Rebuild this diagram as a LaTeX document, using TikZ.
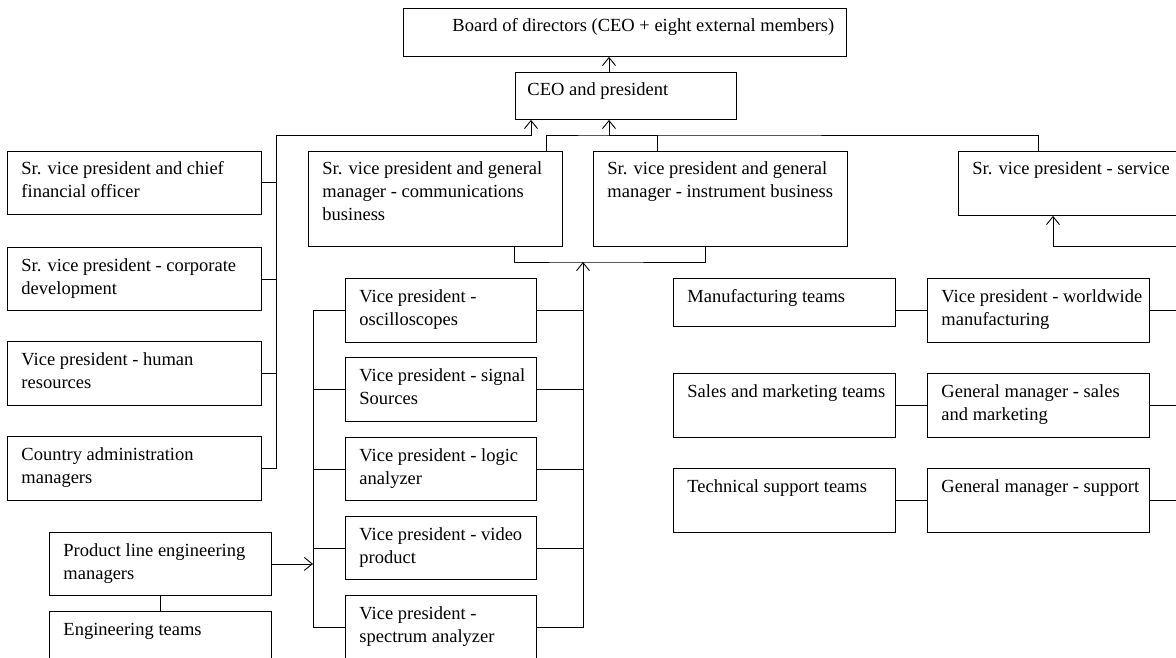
\documentclass[tikz,border=0pt]{standalone}
\usepackage{fontspec}
\setmainfont{Liberation Serif}
\usetikzlibrary{arrows.meta}
\tikzset{
	box/.style = {draw, rectangle, anchor=north west, inner sep=0pt},
	lbl/.style = {anchor=base west, inner sep=0pt, font=\fontsize{18.5pt}{23pt}\selectfont},
	arr/.style = {-{Straight Barb[length=8pt, width=13pt]}}
	}
% box with its text in the top left corner
\newcommand\orgbox[7][14]{%
	\node [box, minimum width=#5pt, minimum height=#6pt] (#2) at (#3,#4) {};
	\node [lbl] (#2-text) at ([shift={(#1pt,-24pt)}]#2.north west) {\parbox[t]{#5pt}{\raggedright #7}};}

\begin{document}
\begin{tikzpicture}[x=1pt, y=-1pt, line width=0.9pt]
\useasboundingbox (0,0) rectangle (1176,658);
\clip (0,0) rectangle (1176,658);

% NODES
\orgbox[49]{board}{403}{8}{443}{48}{Board of directors (CEO + eight external members)}
\orgbox[12]{ceo}{515}{72}{221}{47}{CEO and president}

\orgbox{cfo}{7}{151}{254}{63}{Sr. vice president and chief\\financial officer}
\orgbox{corpdev}{7}{247}{254}{63}{Sr. vice president - corporate\\development}
\orgbox{hr}{7}{341}{254}{64}{Vice president - human\\resources}
\orgbox{country}{7}{436}{254}{64}{Country administration\\managers}

\orgbox{comm}{308}{151}{254}{95}{Sr. vice president and general\\manager - communications\\business}
\orgbox{instr}{593}{151}{254}{95}{Sr. vice president and general\\manager - instrument business}
\orgbox{service}{958}{151}{254}{64}{Sr. vice president - service}

\orgbox{osc}{345}{278}{191}{64}{Vice president -\\oscilloscopes}
\orgbox{sig}{345}{357}{191}{64}{Vice president - signal\\Sources}
\orgbox{logic}{345}{437}{191}{63}{Vice president - logic\\analyzer}
\orgbox{video}{345}{516}{191}{63}{Vice president - video\\product}
\orgbox{spectrum}{345}{595}{191}{64}{Vice president -\\spectrum analyzer}

\orgbox{plm}{49}{532}{222}{63}{Product line engineering\\managers}
\orgbox{eng}{49}{611}{222}{64}{Engineering teams}

\orgbox{mfgteams}{673}{278}{222}{48}{Manufacturing teams}
\orgbox{vpmfg}{927}{278}{222}{64}{Vice president - worldwide\\manufacturing}
\orgbox{salesteams}{673}{373}{222}{64}{Sales and marketing teams}
\orgbox{gmsales}{927}{373}{222}{64}{General manager - sales\\and marketing}
\orgbox{techteams}{673}{468}{222}{64}{Technical support teams}
\orgbox{gmsupport}{927}{468}{222}{64}{General manager - support}

% CONNECTIONS
\coordinate (lbus) at (276,135);
\coordinate (rbus) at (609,135);
\coordinate (vbus) at (583,262);
\coordinate (vpbus) at (313,309);
\coordinate (sbus) at (1190,246);

\draw [arr] (rbus |- ceo.north) -- (rbus |- board.south);

\draw [arr] (country.east) -| (lbus) -| ([xshift=16pt]ceo.south west);
\draw (cfo.east) -- (cfo.east -| lbus);
\draw (corpdev.east) -- (corpdev.east -| lbus);
\draw (hr.east) -- (hr.east -| lbus);

\draw [arr] (rbus) -- (rbus |- ceo.south);
\draw ([xshift=-16pt]comm.north east) |- (rbus) -| ([xshift=80pt]service.north west);
\draw ([xshift=64pt]instr.north west) |- (rbus);

\draw ([xshift=-48pt]comm.south east) |- (vbus) -| ([xshift=112pt]instr.south west);
\draw [arr] (spectrum.east) -| (vbus);
\draw (osc.east) -- (osc.east -| vbus);
\draw (sig.east) -- (sig.east -| vbus);
\draw (logic.east) -- (logic.east -| vbus);
\draw (video.east) -- (video.east -| vbus);

\draw (osc.west) -- (osc.west -| vpbus) |- (spectrum.west);
\draw (sig.west) -- (sig.west -| vpbus);
\draw (logic.west) -- (logic.west -| vpbus);
\draw (video.west) -- (video.west -| vpbus);
\draw [arr] (plm.east) -- (plm.east -| vpbus);
\draw (plm.south) -- (eng.north);

\draw (vpmfg.west) -- (vpmfg.west -| mfgteams.east);
\draw (gmsales.west) -- (salesteams.east);
\draw (gmsupport.west) -- (techteams.east);
\draw [arr] (gmsupport.east) -| (sbus) -| ([xshift=95pt]service.south west);
\draw (vpmfg.east) -- (vpmfg.east -| sbus);
\draw (gmsales.east) -- (gmsales.east -| sbus);

\end{tikzpicture}
\end{document}
